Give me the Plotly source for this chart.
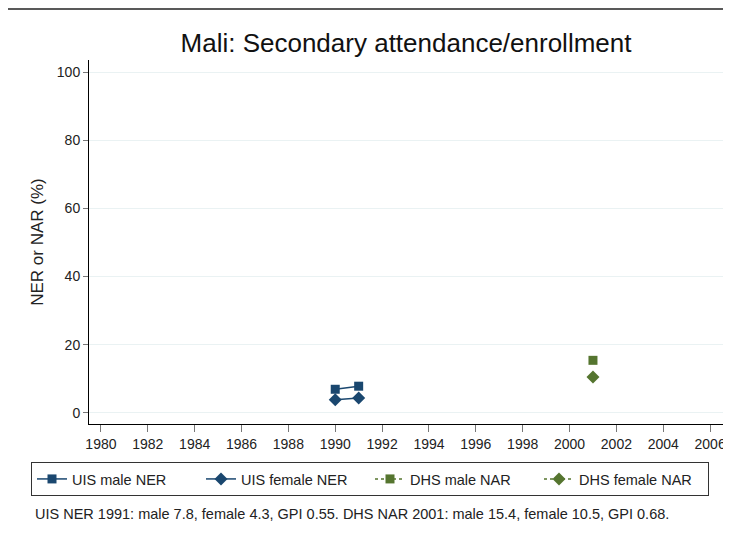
import plotly.graph_objects as go

uis_years = [1990, 1991]
uis_male = [6.9, 7.8]
uis_female = [3.8, 4.3]
dhs_years = [2001]
dhs_male = [15.4]
dhs_female = [10.5]
x_ticks = list(range(1980, 2007, 2))
y_ticks = [0, 20, 40, 60, 80, 100]
note = "UIS NER 1991: male 7.8, female 4.3, GPI 0.55. DHS NAR 2001: male 15.4, female 10.5, GPI 0.68."

NAVY = "#1a476f"
GREEN = "#55752f"

# page body has an 8px margin, so the canvas is 8px smaller and offset
W, H = 723, 528
L, R, T, B = 81, 8, 52, 112
PW, PH = W - L - R, H - T - B

fig = go.Figure()
fig.add_trace(go.Scatter(x=uis_years, y=uis_male, mode="lines+markers", name="UIS male NER",
                         line=dict(color=NAVY, width=1.5), marker=dict(symbol="square", size=9, color=NAVY)))
fig.add_trace(go.Scatter(x=uis_years, y=uis_female, mode="lines+markers", name="UIS female NER",
                         line=dict(color=NAVY, width=1.5), marker=dict(symbol="diamond", size=10, color=NAVY)))
fig.add_trace(go.Scatter(x=dhs_years, y=dhs_male, mode="lines+markers", name="DHS male NAR",
                         line=dict(color=GREEN, width=1.5, dash="dot"), marker=dict(symbol="square", size=9, color=GREEN)))
fig.add_trace(go.Scatter(x=dhs_years, y=dhs_female, mode="lines+markers", name="DHS female NAR",
                         line=dict(color=GREEN, width=1.5, dash="dot"), marker=dict(symbol="diamond", size=10, color=GREEN)))

fig.update_layout(
    width=W, height=H,
    margin=dict(l=L, r=R, t=T, b=B, autoexpand=False),
    paper_bgcolor="white", plot_bgcolor="white",
    font=dict(family="Liberation Sans, Arial, sans-serif", color="#222"),
    title=dict(text="Mali: Secondary attendance/enrollment", xref="paper", x=0.5, xanchor="center",
               y=1 - 35 / H, yanchor="middle", font=dict(size=26, color="#111")),
    xaxis=dict(range=[1979.49, 2006.55], tickvals=x_ticks, ticks="outside", ticklen=7,
               tickcolor="#777", showgrid=False, zeroline=False, showline=True, linecolor="black",
               linewidth=1, tickfont=dict(size=14), automargin=False),
    yaxis=dict(range=[-3.3, 103.6], tickvals=y_ticks, ticks="outside", ticklen=5,
               tickcolor="#777", showgrid=True, gridcolor="#eaf2f3", gridwidth=1, zeroline=False,
               showline=True, linecolor="black", linewidth=1, tickfont=dict(size=14), automargin=False,
               title=dict(text="NER or NAR (%)", font=dict(size=17), standoff=8)),
    legend=dict(orientation="h", x=(23 - L) / PW, xanchor="left", y=-(454 - (T + PH)) / PH, yanchor="top",
                bordercolor="#333", borderwidth=1, font=dict(size=14.5), entrywidth=124,
                itemwidth=30, traceorder="normal"),
    showlegend=True,
)

# Outer frame (top edge visible)
fig.add_shape(type="line", xref="paper", yref="paper", x0=-L / PW, x1=1.05,
              y0=(T + PH - 1) / PH, y1=(T + PH - 1) / PH, line=dict(color="#222", width=1.5))

fig.add_annotation(text=note, xref="paper", yref="paper", x=(25 - L) / PW, xanchor="left",
                   y=-(506 - (T + PH)) / PH, yanchor="middle", showarrow=False, font=dict(size=14.5, color="#222"))

fig.write_html("out.html")
